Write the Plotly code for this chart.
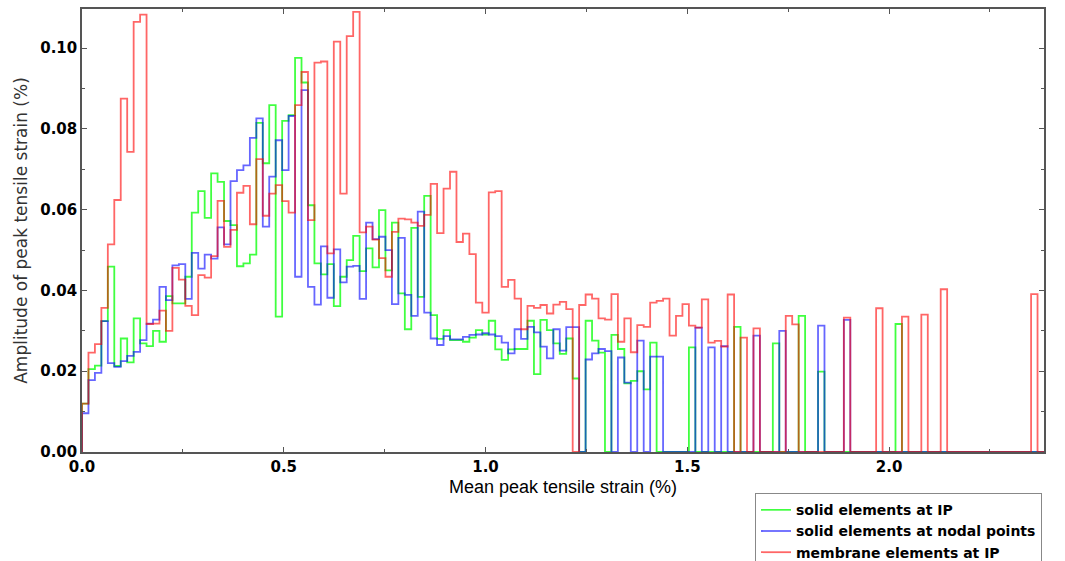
import plotly.graph_objects as go

BIN_WIDTH = 0.016

solid_ip = [
    0.012, 0.0205, 0.0214, 0.0324, 0.0459, 0.0213, 0.0281, 0.0222, 0.0331, 0.0269,
    0.0262, 0.030, 0.0273, 0.0386, 0.0368, 0.0368, 0.0434, 0.0593, 0.0646, 0.058,
    0.069, 0.0669, 0.0572, 0.0562, 0.046, 0.0467, 0.0489, 0.0815, 0.0715, 0.0859,
    0.0335, 0.082, 0.0834, 0.0976, 0.0915, 0.0611, 0.0467, 0.044, 0.0465, 0.0361,
    0.0434, 0.0475, 0.0535, 0.0448, 0.0504, 0.0457, 0.0599, 0.045, 0.0568, 0.0393,
    0.0304, 0.0555, 0.0384, 0.0634, 0.0339, 0.028, 0.0302, 0.0277, 0.0277, 0.0273,
    0.0283, 0.0302, 0.0291, 0.0325, 0.0254, 0.0228, 0.0254, 0.0255, 0.0255, 0.0325,
    0.0193, 0.0327, 0.0302, 0.0269, 0.0243, 0.0281, 0.0182, 0.0, 0.0325, 0.0276,
    0.0246, 0.0, 0.029, 0.0255, 0.017, 0.0176, 0.020, 0.0155, 0.0271, 0.0,
    0.0, 0.0, 0.0, 0.0, 0.0259, 0.0, 0.0, 0.0, 0.0, 0.0,
    0.0, 0.031, 0.0, 0.0, 0.0, 0.0, 0.0, 0.0269, 0.0, 0.0,
    0.0, 0.0337, 0.0, 0.0, 0.0199, 0.0, 0.0, 0.0, 0.0, 0.0,
    0.0, 0.0, 0.0, 0.0, 0.0, 0.0, 0.0317, 0.0, 0.0, 0.0,
    0.0, 0.0, 0.0, 0.0, 0.0, 0.0, 0.0, 0.0, 0.0, 0.0,
    0.0, 0.0, 0.0, 0.0, 0.0, 0.0, 0.0, 0.0, 0.0,
]

solid_nodal = [
    0.0096, 0.0178, 0.0196, 0.0324, 0.022, 0.0211, 0.0225, 0.0238, 0.0248, 0.0277,
    0.0318, 0.0328, 0.0409, 0.0376, 0.0462, 0.0465, 0.0379, 0.0493, 0.0454, 0.0489,
    0.0479, 0.0556, 0.0514, 0.0671, 0.0698, 0.071, 0.0778, 0.0826, 0.0558, 0.0682,
    0.0772, 0.0698, 0.0832, 0.0434, 0.0896, 0.0409, 0.0365, 0.0509, 0.0382, 0.0502,
    0.042, 0.0459, 0.0461, 0.0379, 0.0568, 0.0527, 0.0533, 0.050, 0.0366, 0.053,
    0.0389, 0.0337, 0.0595, 0.0345, 0.0281, 0.0265, 0.0287, 0.0279, 0.0279, 0.0285,
    0.029, 0.0291, 0.0294, 0.0291, 0.0287, 0.0271, 0.0244, 0.0304, 0.028, 0.031,
    0.0296, 0.0261, 0.0232, 0.0304, 0.0251, 0.0309, 0.0309, 0.0, 0.0229, 0.0244,
    0.0255, 0.025, 0.0, 0.0234, 0.0172, 0.0, 0.0276, 0.0, 0.0236, 0.0236,
    0.0, 0.0, 0.0, 0.0, 0.0, 0.0308, 0.0, 0.0259, 0.0, 0.0262,
    0.0, 0.0, 0.0, 0.0, 0.0288, 0.0, 0.0, 0.0, 0.030, 0.0,
    0.0, 0.0, 0.0, 0.0, 0.0313, 0.0, 0.0, 0.0, 0.0327, 0.0,
    0.0, 0.0, 0.0, 0.0, 0.0, 0.0, 0.0, 0.0, 0.0, 0.0,
    0.0, 0.0, 0.0, 0.0, 0.0, 0.0, 0.0, 0.0, 0.0, 0.0,
    0.0, 0.0, 0.0, 0.0, 0.0, 0.0, 0.0, 0.0, 0.0,
]

membrane_ip = [
    0.012, 0.0246, 0.0267, 0.0357, 0.0514, 0.0624, 0.0875, 0.0743, 0.1065, 0.1083,
    0.0317, 0.0318, 0.035, 0.030, 0.0456, 0.0427, 0.0362, 0.0339, 0.0438, 0.0432,
    0.0485, 0.0622, 0.0508, 0.055, 0.0642, 0.0659, 0.0564, 0.0725, 0.0585, 0.064,
    0.0661, 0.0621, 0.0593, 0.0859, 0.0941, 0.0574, 0.0964, 0.0967, 0.0492, 0.1016,
    0.064, 0.103, 0.109, 0.0544, 0.0558, 0.0526, 0.048, 0.0434, 0.0545, 0.0578,
    0.0576, 0.0568, 0.056, 0.0587, 0.0664, 0.0542, 0.0652, 0.0694, 0.052, 0.0541,
    0.049, 0.037, 0.0345, 0.0643, 0.0646, 0.0409, 0.0426, 0.038, 0.0304, 0.0362,
    0.0357, 0.0364, 0.0343, 0.0365, 0.0372, 0.0354, 0.0, 0.0364, 0.039, 0.038,
    0.0331, 0.0328, 0.0391, 0.0273, 0.0331, 0.0247, 0.0314, 0.031, 0.037, 0.0374,
    0.038, 0.0288, 0.0337, 0.0366, 0.0313, 0.0308, 0.0378, 0.0271, 0.0275, 0.0261,
    0.039, 0.0, 0.0283, 0.0, 0.0306, 0.0, 0.0, 0.0, 0.0, 0.0337,
    0.0316, 0.0, 0.0, 0.0, 0.0, 0.0, 0.0, 0.0, 0.0333, 0.0,
    0.0, 0.0, 0.0, 0.0356, 0.0, 0.0, 0.0, 0.0335, 0.0, 0.0,
    0.034, 0.0, 0.0, 0.0403, 0.0, 0.0, 0.0, 0.0, 0.0, 0.0,
    0.0, 0.0, 0.0, 0.0, 0.0, 0.0, 0.0, 0.0391, 0.0,
]

series = [
    ("solid elements at IP", solid_ip, "rgba(0,255,0,0.75)"),
    ("solid elements at nodal points", solid_nodal, "rgba(0,0,255,0.6)"),
    ("membrane elements at IP", membrane_ip, "rgba(255,0,0,0.6)"),
]

fig = go.Figure()
for name, vals, color in series:
    n = len(vals)
    xs = [0.0] + [i * BIN_WIDTH for i in range(n)] + [n * BIN_WIDTH]
    ys = [0.0] + list(vals) + [0.0]
    fig.add_trace(go.Scatter(
        x=xs, y=ys, mode="lines", name=name,
        line=dict(color=color, width=1.8, shape="hv"),
    ))

n_bins = len(membrane_ip)
x_max = n_bins * BIN_WIDTH

axis_common = dict(
    showgrid=False, zeroline=False, showline=True, linecolor="#555555", linewidth=1.5,
    mirror="ticks", ticks="inside", ticklen=5, tickwidth=1, tickcolor="#555555",
    tickfont=dict(family="DejaVu Sans", size=15, color="black", weight="bold"),
)

fig.update_layout(
    width=1065, height=561,
    margin=dict(l=82, r=21, t=9, b=109, autoexpand=False),
    paper_bgcolor="white", plot_bgcolor="white",
    showlegend=True,
    legend=dict(
        x=0.6996, y=-0.093, xanchor="left", yanchor="top",
        bgcolor="white", bordercolor="#888888", borderwidth=1,
        font=dict(family="DejaVu Sans", size=14, color="black", weight="bold"),
        itemwidth=30, tracegroupgap=0,
    ),
)
fig.update_xaxes(
    range=[0, x_max], dtick=0.5, tickformat=".1f",
    minor=dict(dtick=0.25, ticks="inside", ticklen=3, tickcolor="#555555"),
    title=dict(text="Mean peak tensile strain (%)", standoff=6,
               font=dict(family="Liberation Sans", size=18, color="black")),
    **axis_common,
)
fig.update_yaxes(
    range=[0, 0.1097], dtick=0.02, tickformat=".2f",
    minor=dict(dtick=0.01, ticks="inside", ticklen=3, tickcolor="#555555"),
    title=dict(text="Amplitude of peak tensile strain (%)", standoff=8,
               font=dict(family="DejaVu Sans", size=17, color="#333333")),
    **axis_common,
)

fig.write_html("out.html")
